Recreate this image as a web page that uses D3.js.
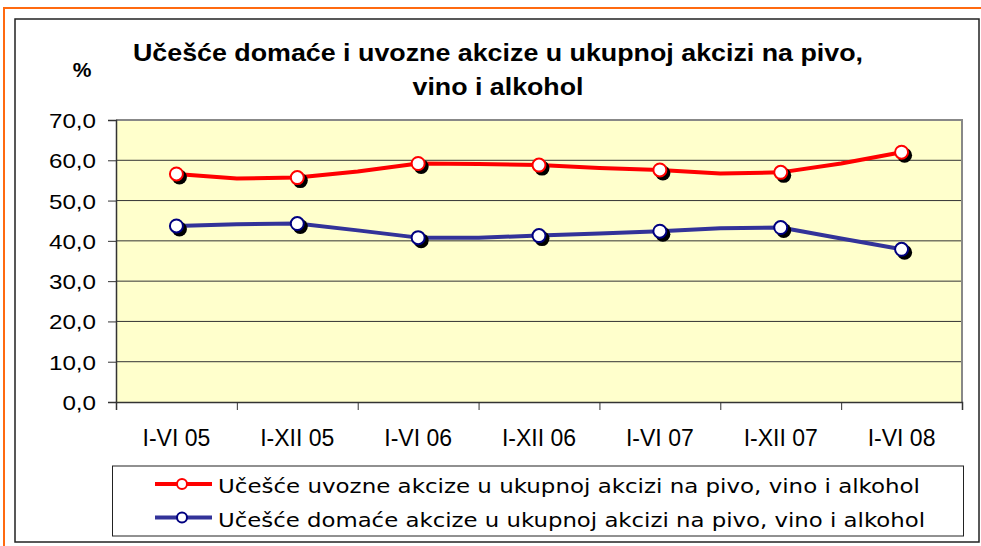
<!DOCTYPE html>
<html>
<head>
<meta charset="utf-8">
<script src="https://cdn.jsdelivr.net/npm/d3@7"></script>
<style>
  body { margin: 0; background: #fff; }
  svg { display: block; }
</style>
</head>
<body>
<div id="chart"></div>
<script>
// Chart size
const width = 981;
const height = 546;

// Category labels on the x axis
const categories = ["I-VI 05", "I-XII 05", "I-VI 06", "I-XII 06", "I-VI 07", "I-XII 07", "I-VI 08"];

// Values are read at every half category (markers on the whole ones)
const importShare = [56.6, 55.5, 55.7, 57.2, 59.2, 59.1, 58.8, 58.1, 57.6, 56.7, 57.0, 59.2, 62.0];
const domesticShare = [43.7, 44.1, 44.3, 42.6, 40.8, 40.8, 41.3, 41.8, 42.4, 43.1, 43.3, 40.6, 37.9];

const seriesNames = [
    "Učešće uvozne akcize u ukupnoj akcizi na pivo, vino i alkohol",
    "Učešće domaće akcize u ukupnoj akcizi na pivo, vino i alkohol"
];
const yTicks = [0, 10, 20, 30, 40, 50, 60, 70];

const svg = d3.select('#chart').append('svg')
    .attr('width', width)
    .attr('height', height);

// outer orange frame and black chart frame
svg.append('rect')
    .attr('x', 4).attr('y', 8).attr('width', 990).attr('height', 560)
    .attr('fill', 'none').attr('stroke', '#ff6a10').attr('stroke-width', 2);
svg.append('rect')
    .attr('x', 15).attr('y', 19).attr('width', 964).attr('height', 523)
    .attr('fill', '#fff').attr('stroke', '#222').attr('stroke-width', 1.5);

// plot area
const plot = { left: 116, right: 962, top: 120, bottom: 402 };

const x = d3.scaleLinear().domain([0, categories.length]).range([plot.left, plot.right]);
const y = d3.scaleLinear().domain([0, 70]).range([plot.bottom, plot.top]);

svg.append('rect')
    .attr('x', plot.left).attr('y', plot.top)
    .attr('width', plot.right - plot.left).attr('height', plot.bottom - plot.top)
    .attr('fill', '#ffffcc');

// gridlines
svg.append('g')
    .selectAll('line')
    .data(yTicks.filter(d => d > 0 && d < 70))
    .join('line')
    .attr('x1', plot.left).attr('x2', plot.right)
    .attr('y1', d => y(d)).attr('y2', d => y(d))
    .attr('stroke', '#333').attr('stroke-width', 1);

// plot border, top and right in gray
svg.append('path')
    .attr('d', `M${plot.left},${plot.top}H${plot.right}V${plot.bottom}`)
    .attr('fill', 'none').attr('stroke', '#888').attr('stroke-width', 2);

// y axis
const fmt = d => d.toFixed(1).replace('.', ',');
const yAxis = svg.append('g')
    .attr('transform', `translate(${plot.left},0)`)
    .call(d3.axisLeft(y).tickValues(yTicks).tickSize(8).tickPadding(12).tickFormat(fmt));
yAxis.select('.domain').attr('stroke', '#333').attr('stroke-width', 1.5);
yAxis.selectAll('.tick line').attr('stroke', '#333');
// labels in the reference are a little wider than Arial, so stretch them
yAxis.selectAll('text')
    .attr('font-family', 'Liberation Sans, Arial, sans-serif')
    .attr('font-size', 21)
    .attr('fill', '#000')
    .attr('dy', '0.36em')
    .attr('textLength', d => ((fmt(d).length - 1) * 0.556 + 0.278) * 24.2)
    .attr('lengthAdjust', 'spacingAndGlyphs');

// x axis, ticks between categories
const xAxis = svg.append('g')
    .attr('transform', `translate(0,${plot.bottom})`)
    .call(d3.axisBottom(x).tickValues(d3.range(categories.length + 1)).tickSize(8).tickFormat(''));
xAxis.select('.domain').attr('stroke', '#333').attr('stroke-width', 1.5);
xAxis.selectAll('.tick line').attr('stroke', '#333');

svg.append('g')
    .selectAll('text')
    .data(categories)
    .join('text')
    .attr('x', (d, i) => x(i + 0.5))
    .attr('y', 446)
    .attr('text-anchor', 'middle')
    .attr('font-family', 'Liberation Sans, Arial, sans-serif')
    .attr('font-size', 23)
    .text(d => d);

// title and unit
svg.append('text')
    .attr('x', 498).attr('y', 61)
    .attr('text-anchor', 'middle')
    .attr('font-family', 'Liberation Sans, Arial, sans-serif')
    .attr('font-weight', 'bold').attr('font-size', 24)
    .attr('textLength', 730).attr('lengthAdjust', 'spacingAndGlyphs')
    .text('Učešće domaće i uvozne akcize u ukupnoj akcizi na pivo,');
svg.append('text')
    .attr('x', 498).attr('y', 95)
    .attr('text-anchor', 'middle')
    .attr('font-family', 'Liberation Sans, Arial, sans-serif')
    .attr('font-weight', 'bold').attr('font-size', 24)
    .attr('textLength', 171).attr('lengthAdjust', 'spacingAndGlyphs')
    .text('vino i alkohol');
svg.append('text')
    .attr('x', 82).attr('y', 77)
    .attr('text-anchor', 'middle')
    .attr('font-family', 'Liberation Sans, Arial, sans-serif')
    .attr('font-weight', 'bold').attr('font-size', 21)
    .text('%');

// series
const series = [
    { name: seriesNames[0], values: importShare, line: '#ff0000', mark: '#ff0000' },
    { name: seriesNames[1], values: domesticShare, line: '#333399', mark: '#000080' }
];

const lineGen = d3.line()
    .x((d, i) => x(i / 2 + 0.5))
    .y(d => y(d));

series.forEach(function(s) {
    svg.append('path')
        .datum(s.values)
        .attr('d', lineGen)
        .attr('fill', 'none')
        .attr('stroke', s.line)
        .attr('stroke-width', 4)
        .attr('stroke-linejoin', 'round');

    const marks = s.values.map((v, i) => ({ v, i })).filter(d => d.i % 2 === 0);
    // black drop shadow
    svg.append('g')
        .selectAll('circle')
        .data(marks)
        .join('circle')
        .attr('cx', d => x(d.i / 2 + 0.5) + 3)
        .attr('cy', d => y(d.v) + 3)
        .attr('r', 7.5)
        .attr('fill', '#000');
    svg.append('g')
        .selectAll('circle')
        .data(marks)
        .join('circle')
        .attr('cx', d => x(d.i / 2 + 0.5))
        .attr('cy', d => y(d.v))
        .attr('r', 6.5)
        .attr('fill', '#fff')
        .attr('stroke', s.mark)
        .attr('stroke-width', 2);
});

// legend
svg.append('rect')
    .attr('x', 112.5).attr('y', 466).attr('width', 851).attr('height', 70)
    .attr('fill', '#fff').attr('stroke', '#222').attr('stroke-width', 1);

const legendWidths = [702, 707];
const legend = svg.append('g')
    .selectAll('g')
    .data(series)
    .join('g')
    .attr('transform', (d, i) => `translate(0,${484 + i * 33.5})`);
legend.append('line')
    .attr('x1', 155).attr('x2', 212)
    .attr('stroke', d => d.line).attr('stroke-width', 4);
legend.append('circle')
    .attr('cx', 182).attr('r', 5)
    .attr('fill', '#fff')
    .attr('stroke', d => d.mark).attr('stroke-width', 2);
legend.append('text')
    .attr('x', 218).attr('y', 9)
    .attr('font-family', 'DejaVu Sans, Verdana, sans-serif')
    .attr('font-size', 20)
    .attr('textLength', (d, i) => legendWidths[i])
    .attr('lengthAdjust', 'spacingAndGlyphs')
    .text(d => d.name);
</script>
</body>
</html>
